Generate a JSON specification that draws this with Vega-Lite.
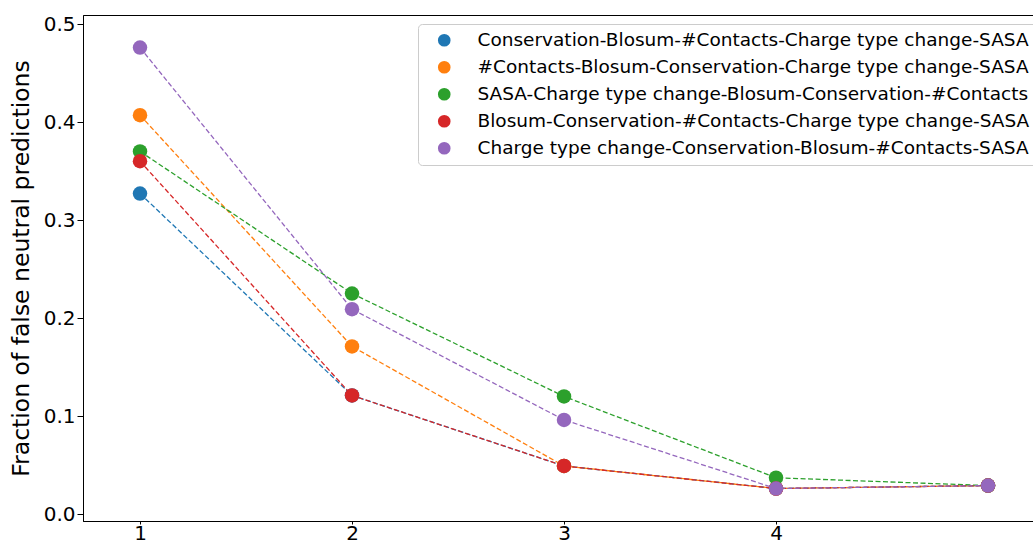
{
  "$schema": "https://vega.github.io/schema/vega-lite/v6.json",
  "autosize": {"type": "none"},
  "padding": {"left": 83, "top": 15, "right": 0, "bottom": 19},
  "width": 1000,
  "height": 506,
  "background": "white",
  "config": {
    "font": "DejaVu Sans",
    "view": {"stroke": "black", "strokeWidth": 1},
    "axis": {"grid": false, "domainColor": "black", "tickColor": "black", "labelColor": "black", "titleColor": "black", "labelFont": "DejaVu Sans", "titleFont": "DejaVu Sans", "titleFontWeight": "normal", "tickSize": 5, "labelFontSize": 20}
  },
  "data": {
    "values": [
      {"series": "Conservation-Blosum-#Contacts-Charge type change-SASA", "k": 1, "v": 0.327},
      {"series": "Conservation-Blosum-#Contacts-Charge type change-SASA", "k": 2, "v": 0.121},
      {"series": "Conservation-Blosum-#Contacts-Charge type change-SASA", "k": 3, "v": 0.049},
      {"series": "Conservation-Blosum-#Contacts-Charge type change-SASA", "k": 4, "v": 0.026},
      {"series": "Conservation-Blosum-#Contacts-Charge type change-SASA", "k": 5, "v": 0.029},
      {"series": "#Contacts-Blosum-Conservation-Charge type change-SASA", "k": 1, "v": 0.407},
      {"series": "#Contacts-Blosum-Conservation-Charge type change-SASA", "k": 2, "v": 0.171},
      {"series": "#Contacts-Blosum-Conservation-Charge type change-SASA", "k": 3, "v": 0.049},
      {"series": "#Contacts-Blosum-Conservation-Charge type change-SASA", "k": 4, "v": 0.026},
      {"series": "#Contacts-Blosum-Conservation-Charge type change-SASA", "k": 5, "v": 0.029},
      {"series": "SASA-Charge type change-Blosum-Conservation-#Contacts", "k": 1, "v": 0.370},
      {"series": "SASA-Charge type change-Blosum-Conservation-#Contacts", "k": 2, "v": 0.225},
      {"series": "SASA-Charge type change-Blosum-Conservation-#Contacts", "k": 3, "v": 0.120},
      {"series": "SASA-Charge type change-Blosum-Conservation-#Contacts", "k": 4, "v": 0.037},
      {"series": "SASA-Charge type change-Blosum-Conservation-#Contacts", "k": 5, "v": 0.029},
      {"series": "Blosum-Conservation-#Contacts-Charge type change-SASA", "k": 1, "v": 0.360},
      {"series": "Blosum-Conservation-#Contacts-Charge type change-SASA", "k": 2, "v": 0.121},
      {"series": "Blosum-Conservation-#Contacts-Charge type change-SASA", "k": 3, "v": 0.049},
      {"series": "Blosum-Conservation-#Contacts-Charge type change-SASA", "k": 4, "v": 0.026},
      {"series": "Blosum-Conservation-#Contacts-Charge type change-SASA", "k": 5, "v": 0.029},
      {"series": "Charge type change-Conservation-Blosum-#Contacts-SASA", "k": 1, "v": 0.476},
      {"series": "Charge type change-Conservation-Blosum-#Contacts-SASA", "k": 2, "v": 0.209},
      {"series": "Charge type change-Conservation-Blosum-#Contacts-SASA", "k": 3, "v": 0.096},
      {"series": "Charge type change-Conservation-Blosum-#Contacts-SASA", "k": 4, "v": 0.026},
      {"series": "Charge type change-Conservation-Blosum-#Contacts-SASA", "k": 5, "v": 0.029}
    ]
  },
  "encoding": {
    "x": {"field": "k", "type": "quantitative", "scale": {"domain": [0.7311, 5.448], "nice": false, "zero": false},
          "axis": {"values": [1, 2, 3, 4], "title": null, "format": "d", "tickSize": 3, "labelPadding": -1}},
    "y": {"field": "v", "type": "quantitative", "scale": {"domain": [-0.00714, 0.5092], "nice": false, "zero": false},
          "axis": {"values": [0, 0.1, 0.2, 0.3, 0.4, 0.5], "format": ".1f", "title": "Fraction of false neutral predictions", "titleFontSize": 23.5, "titlePadding": 10, "labelPadding": 2, "tickSize": 6}},
    "color": {"field": "series", "type": "nominal",
      "scale": {"domain": ["Conservation-Blosum-#Contacts-Charge type change-SASA", "#Contacts-Blosum-Conservation-Charge type change-SASA", "SASA-Charge type change-Blosum-Conservation-#Contacts", "Blosum-Conservation-#Contacts-Charge type change-SASA", "Charge type change-Conservation-Blosum-#Contacts-SASA"],
                "range": ["#1f77b4", "#ff7f0e", "#2ca02c", "#d62728", "#9467bd"]},
      "legend": {"title": null, "orient": "none", "legendX": 335, "legendY": 9, "padding": 7, "fillColor": "white", "strokeColor": "#cccccc", "cornerRadius": 4, "labelFontSize": 18.5, "labelFont": "DejaVu Sans", "labelColor": "black", "symbolType": "circle", "symbolSize": 160, "symbolStrokeWidth": 0, "symbolOpacity": 1, "rowPadding": 8, "labelOffset": 24, "symbolOffset": 10, "labelLimit": 700}
    }
  },
  "layer": [
    {"mark": {"type": "line", "strokeDash": [5, 2.5], "strokeWidth": 1.3}},
    {"mark": {"type": "point", "shape": "circle", "filled": true, "size": 210, "opacity": 1}}
  ]
}
